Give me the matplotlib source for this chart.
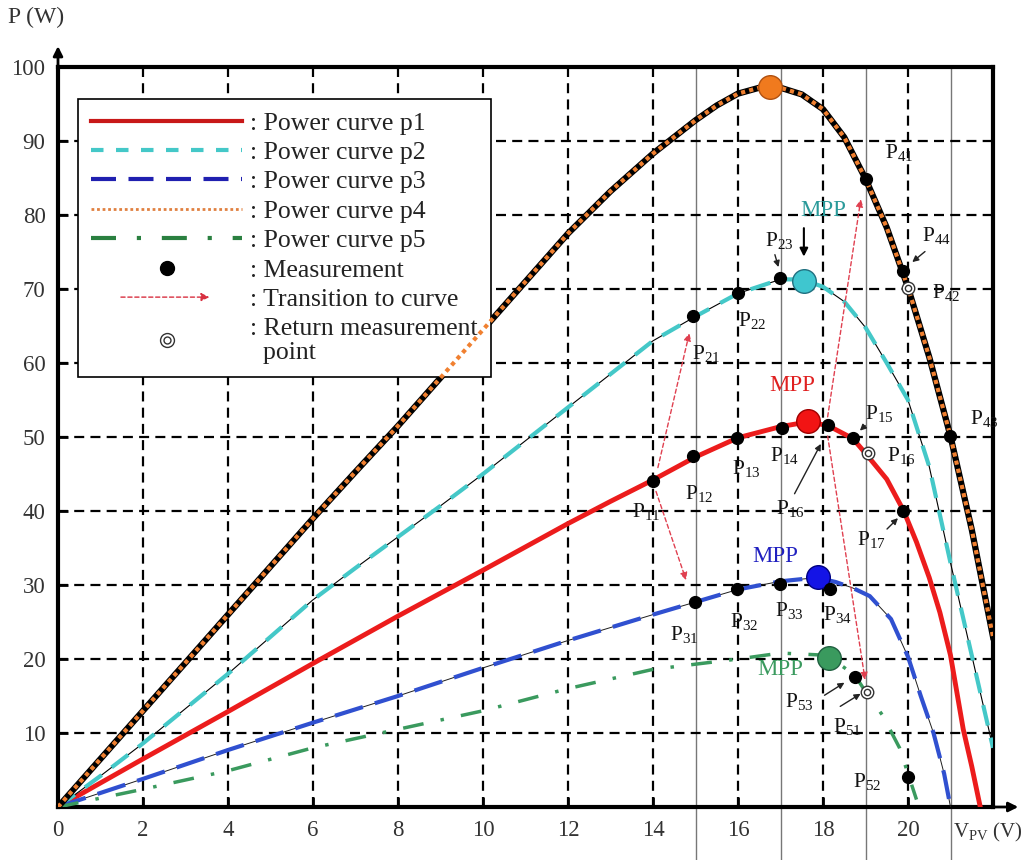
import matplotlib
matplotlib.use("Agg")
import matplotlib.pyplot as plt
from matplotlib.lines import Line2D
from matplotlib.patches import FancyArrowPatch
from matplotlib.legend_handler import HandlerBase, HandlerTuple

plt.rcParams['font.family'] = 'Liberation Serif'
plt.rcParams['mathtext.fontset'] = 'custom'
plt.rcParams['mathtext.rm'] = 'Liberation Serif'
plt.rcParams['mathtext.default'] = 'rm'

# power curves (V, W)
v4 = [0, 1, 2, 3, 4, 5, 6, 7, 8, 9, 10, 11, 12, 13, 14, 15, 15.5, 16, 16.5, 16.75,
      17, 17.5, 18, 18.5, 19, 19.5, 20, 20.5, 21, 21.5, 22]
p4 = [0, 6.5, 13, 19.5, 26, 32.5, 39, 45.3, 51.5, 58, 64.5, 71, 77.5, 83.2, 88.3, 92.8,
      94.8, 96.4, 97.2, 97.3, 97.2, 96.3, 94.3, 90.5, 84.9, 78.3, 70.2, 60.8, 50.1, 37.5, 23]
v2 = [0, 1, 2, 3, 4, 5, 6, 7, 8, 9, 10, 11, 12, 13, 14, 15, 16, 17, 17.5, 18, 18.5,
      19, 19.5, 20, 20.5, 21, 21.5, 22]
p2 = [0, 4.2, 8.6, 13.3, 18, 23, 28, 32.3, 36.5, 40.7, 45, 49.5, 54, 58.5, 63, 66.3,
      69.4, 71.3, 71.3, 70.3, 68.3, 64.8, 60, 55, 46, 33, 20.5, 8]
v1 = [0, 2, 4, 6, 8, 10, 12, 13, 14, 15, 16, 17, 17.6, 18.1, 18.7, 19, 19.5, 19.9,
      20.2, 20.5, 20.75, 21, 21.15, 21.3, 21.5, 21.7]
p1 = [0, 6.5, 12.9, 19.4, 25.8, 32, 38.3, 41.3, 44.2, 47.3, 49.9, 51.4, 52, 51.6,
      49.8, 47.8, 44.3, 40, 35.8, 31, 26.3, 20.5, 15.5, 10.5, 5.5, 0]
v3 = [0, 2, 4, 6, 8, 10, 12, 14, 15, 16, 17, 17.85, 18.3, 18.7, 19.1, 19.6, 20,
      20.3, 20.6, 20.85, 21.0]
p3 = [0, 3.8, 7.7, 11.4, 15, 18.8, 22.5, 26, 27.7, 29.4, 30.5, 31, 30.4, 29.6, 28.5,
      25.4, 20.3, 15, 10, 4.5, 0]
v5 = [0, 2, 4, 6, 8, 10, 12, 14, 16, 17, 18.1, 18.75, 19.0, 19.4, 19.8, 20.2]
p5 = [0, 2.4, 4.9, 8, 10.5, 13, 16, 18.6, 20, 20.8, 20.5, 17.8, 15.6, 12.4, 8, 1]

# maximum power points
mpp_v = [16.75, 17.55, 17.65, 17.88, 18.14]
mpp_p = [97.3, 71.1, 52.2, 31.1, 20.2]
mpp_col = ['#f07a1e', '#3fc6cf', '#f21414', '#1414e6', '#3a9a5e']
mpp_edge = ['#b05010', '#207080', '#a00000', '#000080', '#206040']

# measurements
meas_v = [14.0, 14.94, 15.98, 17.04, 18.12, 18.71, 19.88,
          14.94, 16.0, 16.99, 14.99, 15.98, 16.99, 18.16,
          19.01, 19.88, 20.99, 18.75, 20.0]
meas_p = [44.1, 47.4, 49.8, 51.2, 51.6, 49.8, 40.0,
          66.4, 69.5, 71.5, 27.7, 29.4, 30.1, 29.4,
          84.9, 72.5, 50.1, 17.6, 4.1]
ret_v = [19.06, 20.0, 19.04]
ret_p = [47.8, 70.2, 15.5]

# point labels: (text, V, P)
lbl_txt = ['11', '12', '13', '14', '15', '16', '16', '17', '21', '22', '23',
           '31', '32', '33', '34', '41', '42', '43', '44', '51', '52', '53']
lbl_v = [13.5, 14.75, 15.86, 16.75, 18.99, 19.5, 16.9, 18.8, 14.92, 16.0, 16.64,
         14.4, 15.8, 16.87, 18.0, 19.45, 20.56, 21.46, 20.33, 18.24, 18.7, 17.1]
lbl_p = [39.9, 42.3, 45.7, 47.5, 53.2, 47.5, 40.3, 36.2, 61.3, 65.7, 76.5,
         23.3, 25.1, 26.5, 26.0, 88.5, 69.5, 52.5, 77.2, 10.9, 3.4, 14.2]

# small pointer arrows (from, to)
ptr_from = [(16.85, 75.0), (20.45, 75.3), (19.04, 51.8), (17.3, 42.0),
            (19.46, 37.3), (17.98, 14.9), (18.35, 13.4)]
ptr_to = [(16.97, 72.6), (20.05, 73.4), (18.82, 50.6), (17.98, 49.4),
          (19.81, 39.3), (18.56, 17.0), (18.94, 15.5)]

# transitions between curves
tr_from = [(14.1, 45.5), (14.05, 43.0), (18.05, 50.5), (18.1, 50.5)]
tr_to = [(14.87, 64.4), (14.8, 30.3), (18.9, 82.5), (19.0, 16.8)]

# MPP text labels
mpp_txt_v = [18.0, 17.27, 16.87, 17.0]
mpp_txt_p = [80.6, 57.0, 33.9, 18.6]
mpp_txt_col = ['#2a9a9a', '#e02020', '#2020c0', '#3a9a5e']

guide_v = [15, 17, 19, 21]
xticks = list(range(0, 21, 2))
yticks = list(range(10, 101, 10))


class ArrowHandler(HandlerBase):
    def create_artists(self, legend, orig, xd, yd, w, h, fontsize, trans):
        a = FancyArrowPatch((-xd + 0.18 * w, -yd + h / 2), (-xd + 0.8 * w, -yd + h / 2),
                            arrowstyle='-|>', mutation_scale=12, color='#d83040',
                            linestyle=(0, (3, 2)), lw=1, transform=trans)
        return [a]


fig = plt.figure(figsize=(10.24, 8.6), dpi=100)
ax = fig.add_axes([58 / 1024, 1 - 807 / 860, 935 / 1024, 740 / 860])
ax.set_xlim(0, 22)
ax.set_ylim(0, 100)
ax.set_xticks(xticks)
ax.set_yticks(yticks)
ax.tick_params(labelsize=16.5, labelcolor='#333333', direction='in', length=7,
               width=2, pad=9)
ax.grid(True, color='black', linestyle=(0, (4.5, 2.8)), lw=1.6, zorder=0)
for s in ax.spines.values():
    s.set_linewidth(3)

for gv in guide_v:
    ax.plot([gv, gv], [-7.5, 100], color='#777777', lw=1, clip_on=False, zorder=1)

# curves
ax.plot(v1, p1, color='#ec1c1c', lw=3.5, zorder=3)
ax.plot(v2, p2, color='black', lw=0.8, zorder=3)
ax.plot(v2, p2, color='#44c8c8', lw=3, linestyle=(0, (5, 3)), zorder=3)
ax.plot(v3, p3, color='#1e1e1e', lw=0.7, zorder=3)
ax.plot(v3, p3, color='#3050d0', lw=3, linestyle=(0, (7, 3)), zorder=3)
ax.plot(v5, p5, color='#3a9a5e', lw=2.5, linestyle=(0, (6, 5, 1, 5)), zorder=3)
ax.plot(v4, p4, color='black', lw=4.5, zorder=3)
ax.plot(v4, p4, color='#f08030', lw=3, linestyle=(0, (1, 1)), zorder=6)

# points
for v, p, c, e in zip(mpp_v, mpp_p, mpp_col, mpp_edge):
    ax.plot(v, p, 'o', ms=17, mfc=c, mec=e, mew=1, zorder=7)
ax.plot(meas_v, meas_p, 'o', ms=8.5, color='black', zorder=7)
ax.plot(ret_v, ret_p, 'o', ms=9, mfc='white', mec='#333333', mew=1, zorder=7)
ax.plot(ret_v, ret_p, 'o', ms=4.5, mfc='none', mec='#333333', mew=1, zorder=7)

for t, v, p in zip(lbl_txt, lbl_v, lbl_p):
    ax.text(v, p, 'P$_{' + t + '}$', fontsize=15.5, color='#111111', ha='left',
            va='center', zorder=8)
for a, b in zip(ptr_from, ptr_to):
    ax.annotate('', xy=b, xytext=a, zorder=8,
                arrowprops=dict(arrowstyle='-|>', color='#222222', lw=1, mutation_scale=9))
for a, b in zip(tr_from, tr_to):
    ax.annotate('', xy=b, xytext=a, zorder=5,
                arrowprops=dict(arrowstyle='-|>', color='#e04050', lw=1,
                                linestyle=(0, (3, 2)), mutation_scale=11))
for v, p, c in zip(mpp_txt_v, mpp_txt_p, mpp_txt_col):
    ax.text(v, p, 'MPP', fontsize=16.5, color=c, ha='center', va='center', zorder=8)
ax.annotate('', xy=(mpp_v[1], 74.0), xytext=(mpp_v[1], 78.6), zorder=8,
            arrowprops=dict(arrowstyle='-|>', color='black', lw=1.5, mutation_scale=12))

# axis arrows and labels
ax.annotate('', xy=(0, 1.032), xytext=(0, 0.99), xycoords='axes fraction',
            arrowprops=dict(arrowstyle='-|>', color='black', lw=2, mutation_scale=14))
ax.annotate('', xy=(1.03, 0), xytext=(0.99, 0), xycoords='axes fraction',
            arrowprops=dict(arrowstyle='-|>', color='black', lw=2, mutation_scale=14))
fig.text(8 / 1024, 1 - 17 / 860, 'P (W)', fontsize=17, color='#333333', va='center')
ax.text(21.05, -3.4, 'V$_{PV}$ (V)', fontsize=15, color='#333333', va='center',
        clip_on=False)

# legend
h1 = Line2D([], [], color='#c81818', lw=3)
h2 = Line2D([], [], color='#44c8c8', lw=3, linestyle=(0, (3, 3)))
h3 = Line2D([], [], color='#2020b0', lw=3, linestyle=(0, (6, 3)))
h4 = Line2D([], [], color='#e08040', lw=2, linestyle=(0, (1, 1)))
h5 = Line2D([], [], color='#2a8040', lw=3, linestyle=(0, (6, 5, 1, 5)))
h6 = Line2D([], [], color='black', marker='o', ms=10, ls='none')
h7 = Line2D([], [], color='#d83040')
h8 = (Line2D([], [], marker='o', ms=10, mfc='white', mec='#333333', ls='none'),
      Line2D([], [], marker='o', ms=5, mfc='none', mec='#333333', ls='none'))
labels = [': Power curve p1', ': Power curve p2', ': Power curve p3', ': Power curve p4',
          ': Power curve p5', ': Measurement', ': Transition to curve',
          ': Return measurement\n  point']
leg = ax.legend([h1, h2, h3, h4, h5, h6, h7, h8], labels, loc='upper left',
                bbox_to_anchor=(0.0214, 0.957), borderaxespad=0, fontsize=18.5,
                handlelength=5.9, handletextpad=0.3, labelspacing=0.25, borderpad=0.5,
                fancybox=False, framealpha=1, edgecolor='black', numpoints=1,
                handler_map={h7: ArrowHandler(), tuple: HandlerTuple(ndivide=1)})
leg.get_frame().set_linewidth(1.2)
leg.set_zorder(5)
for t in leg.get_texts():
    t.set_color('#222222')
    t.set_linespacing(1.15)

fig.savefig('out.png', dpi=100)
